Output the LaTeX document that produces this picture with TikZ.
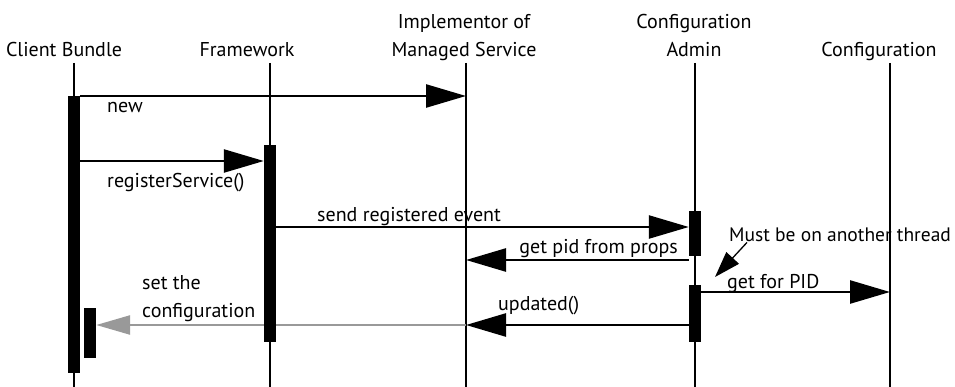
\documentclass[tikz,border=0pt]{standalone}
\usepackage{fontspec}
\setmainfont{PT Sans}
\usetikzlibrary{arrows.meta, positioning, backgrounds}
\tikzset{
  seq_font/.style = {font=\fontsize{20}{28}\selectfont},
  title/.style = {seq_font, align=center, inner sep=0, anchor=base},
  msg_label/.style = {seq_font, align=left, inner sep=0, anchor=base west},
  lifeline/.style = {line width=2pt},
  bar/.style = {fill=black, draw=none, minimum width=12pt, inner sep=0, anchor=north},
  msg/.style = {line width=2.5pt, -{Triangle[length=40pt, width=23pt]}},
  gray_msg/.style = {msg, draw=black!40, -{Triangle[length=34pt, width=19pt]}},
  note_arrow/.style = {line width=1.3pt, -{Triangle[length=26pt, width=17pt]}}
}

\begin{document}
\begin{tikzpicture}[x=1pt, y=-1pt]
    \useasboundingbox (0,0) rectangle (955,387);

    % Actors
    \node[title] (cb) at (64,57) {Client Bundle};
    \node[title] (fw) at (247,57) {Framework};
    \node[title] (ms) at (464,57) {Implementor of\\Managed Service};
    \node[title] (ca) at (694,57) {Configuration\\Admin};
    \node[title] (cf) at (879,57) {Configuration};

    % lifelines
    \coordinate (cb_top) at (74,63);
    \coordinate (fw_top) at (270,63);
    \coordinate (ms_top) at (466,63);
    \coordinate (ca_top) at (695,63);
    \coordinate (cf_top) at (890,63);
    \coordinate (bottom) at (0,387);

    % activations
    \node[bar, minimum height=277pt] (cb_act) at (74,96) {};
    \node[bar, minimum height=50pt] (cb_act2) at (90,308) {};
    \node[bar, minimum height=197pt] (fw_act) at (270,145) {};
    \node[bar, minimum height=45pt] (ca_act) at (695,211) {};
    \node[bar, minimum height=57pt] (ca_act2) at (695,285) {};

    % message texts
    \node[msg_label] (new) at (107,113) {new};
    \node[msg_label] (reg) at (107,188) {registerService()};
    \node[msg_label] (send) at (317,222) {send registered event};
    \node[msg_label, anchor=base east] (pid) at (678,254) {get pid from props};
    \node[msg_label, font=\fontsize{19.5}{28}\selectfont] (note) at (729,242) {Must be on another thread};
    \node[msg_label] (get) at (727,288) {get for PID};
    \node[msg_label] (upd) at (498,310) {updated()};
    \node[msg_label] (set) at (142,317) {set the\\configuration};

    % Arrows and lines
    \begin{pgfonlayer}{background}
    \foreach \l in {cb_top, fw_top, ms_top, ca_top, cf_top}
        \draw[lifeline] (\l) -- (\l |- bottom);
    \draw[msg] (cb_act.north east) -- (ms_top |- cb_act.north);
    \draw[msg] (cb_act.east |- 0,161) -- (fw_act.west |- 0,161);
    \draw[msg] (fw_act.east |- 0,227) -- (ca_act.west |- 0,227);
    \draw[msg] (ca_act.west |- 0,260) -- (ms_top |- 0,260);
    \draw[msg] (ca_act2.east |- 0,292) -- (cf_top |- 0,292);
    \draw[msg] (ca_act2.west |- 0,325) -- (ms_top |- 0,325);
    \draw[gray_msg] (ms_top |- 0,325) -- (cb_act2.east |- 0,325);
    \end{pgfonlayer}

    \draw[note_arrow] (note.south west) ++(18,0) -- (715,277);
\end{tikzpicture}
\end{document}
